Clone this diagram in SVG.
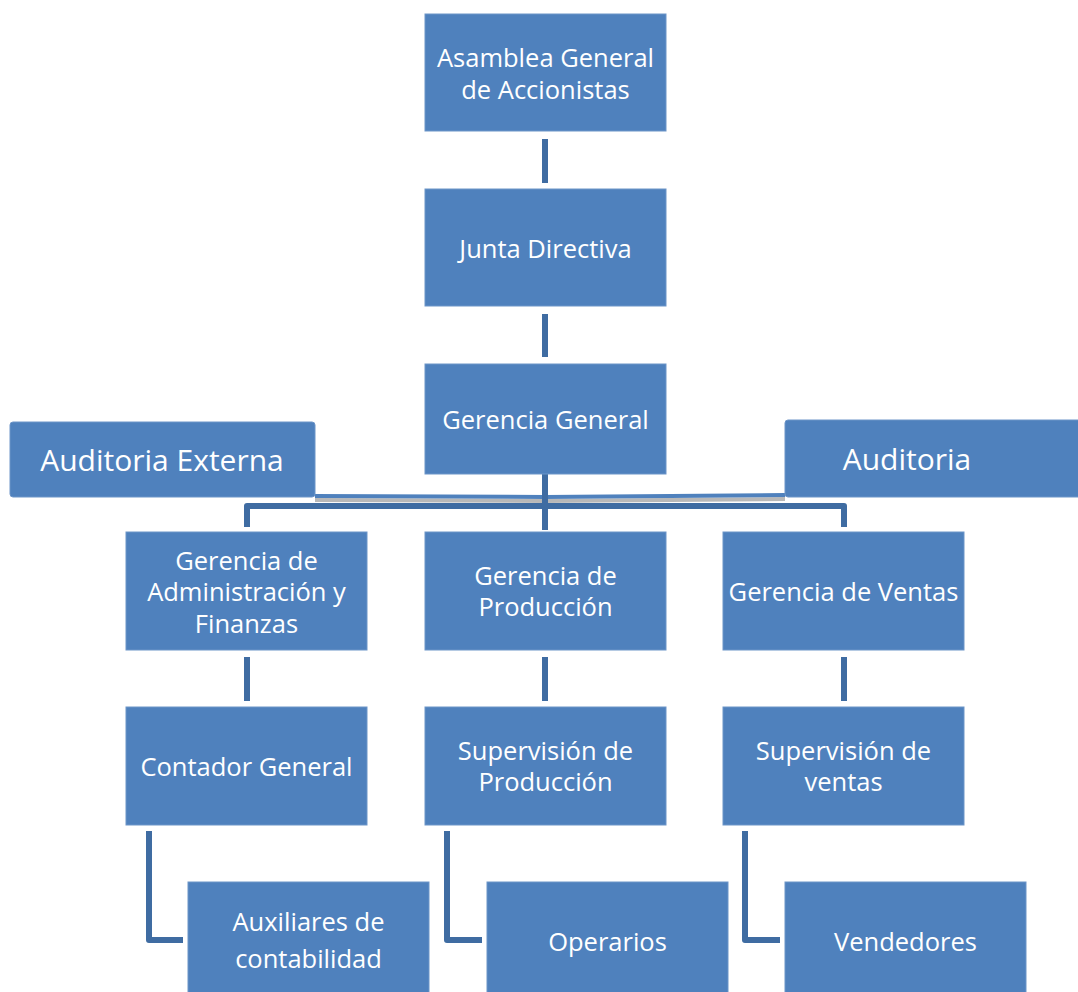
<svg xmlns="http://www.w3.org/2000/svg" width="1078" height="992" viewBox="0 0 1078 992">
<style>
.box{fill:#4F81BD;stroke:#6D95C8;stroke-width:1}
.t{font-family:"Open Sans","Liberation Sans",sans-serif;font-size:25.5px;fill:#FFFFFF;text-anchor:middle;dominant-baseline:central}
.tb{font-size:30px}
.c{fill:none;stroke:#3F6CA2;stroke-width:6;stroke-linejoin:round}
.sh{fill:none;stroke:#9A9A9A;stroke-width:4;opacity:0.7}
</style>
<rect width="1078" height="992" fill="#FFFFFF"/>
<g id="connectors">
  <line class="c" x1="545" y1="139" x2="545" y2="183"/>
  <line class="c" x1="545" y1="314" x2="545" y2="357"/>
  <line class="sh" x1="315" y1="500" x2="545" y2="501"/>
  <line class="sh" x1="545" y1="501" x2="785" y2="499"/>
  <line x1="315" y1="496" x2="545" y2="497" stroke="#4F81BD" stroke-width="4"/>
  <line x1="545" y1="497" x2="785" y2="495" stroke="#4F81BD" stroke-width="4"/>
  <line class="c" x1="545" y1="474" x2="545" y2="530"/>
  <path class="c" d="M247,527 V506 H844 V527"/>
  <line class="c" x1="247" y1="657" x2="247" y2="701"/>
  <line class="c" x1="545" y1="657" x2="545" y2="701"/>
  <line class="c" x1="844" y1="657" x2="844" y2="701"/>
  <path class="c" d="M149,831 V940 H183"/>
  <path class="c" d="M447,831 V940 H482"/>
  <path class="c" d="M745,831 V940 H780"/>
</g>
<g id="asamblea">
  <rect class="box" x="425" y="14" width="241" height="117"/>
  <text class="t" x="545.5" y="57">Asamblea General</text>
  <text class="t" x="545.5" y="89">de Accionistas</text>
</g>
<g id="junta">
  <rect class="box" x="425" y="189" width="241" height="117"/>
  <text class="t" x="545.5" y="248">Junta Directiva</text>
</g>
<g id="gerencia-general">
  <rect class="box" x="425" y="364" width="241" height="110"/>
  <text class="t" x="545.5" y="419">Gerencia General</text>
</g>
<g id="auditoria-externa">
  <rect class="box" x="10" y="422" width="305" height="75" rx="3"/>
  <text class="t tb" x="162" y="459">Auditoria Externa</text>
</g>
<g id="auditoria">
  <rect class="box" x="785" y="420" width="300" height="77" rx="3"/>
  <text class="t tb" x="907" y="458">Auditoria</text>
</g>
<g id="gerencia-admin">
  <rect class="box" x="126" y="532" width="241" height="118"/>
  <text class="t" x="246.5" y="560">Gerencia de</text>
  <text class="t" x="246.5" y="591">Administración y</text>
  <text class="t" x="246.5" y="623">Finanzas</text>
</g>
<g id="gerencia-produccion">
  <rect class="box" x="425" y="532" width="241" height="118"/>
  <text class="t" x="545.5" y="575">Gerencia de</text>
  <text class="t" x="545.5" y="606">Producción</text>
</g>
<g id="gerencia-ventas">
  <rect class="box" x="723" y="532" width="241" height="118"/>
  <text class="t" x="843.5" y="591">Gerencia de Ventas</text>
</g>
<g id="contador">
  <rect class="box" x="126" y="707" width="241" height="118"/>
  <text class="t" x="246.5" y="766">Contador General</text>
</g>
<g id="supervision-produccion">
  <rect class="box" x="425" y="707" width="241" height="118"/>
  <text class="t" x="545.5" y="750">Supervisión de</text>
  <text class="t" x="545.5" y="781">Producción</text>
</g>
<g id="supervision-ventas">
  <rect class="box" x="723" y="707" width="241" height="118"/>
  <text class="t" x="843.5" y="750">Supervisión de</text>
  <text class="t" x="843.5" y="781">ventas</text>
</g>
<g id="auxiliares">
  <rect class="box" x="188" y="882" width="241" height="115"/>
  <text class="t" x="308.5" y="921">Auxiliares de</text>
  <text class="t" x="308.5" y="958" font-size="29">contabilidad</text>
</g>
<g id="operarios">
  <rect class="box" x="487" y="882" width="241" height="115"/>
  <text class="t" x="607.5" y="941">Operarios</text>
</g>
<g id="vendedores">
  <rect class="box" x="785" y="882" width="241" height="115"/>
  <text class="t" x="905.5" y="941">Vendedores</text>
</g>
</svg>
